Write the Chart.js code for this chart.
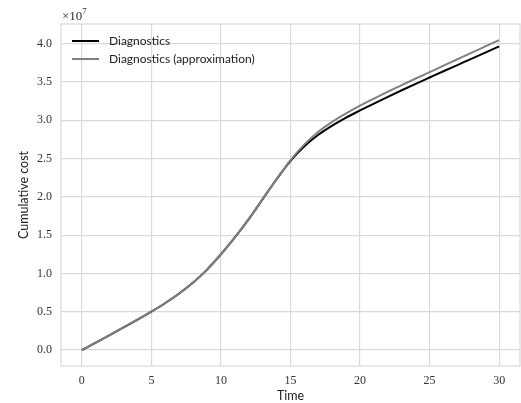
<!DOCTYPE html>
<html>
<head>
<meta charset="utf-8">
<script src="https://cdn.jsdelivr.net/npm/chart.js@4.4.1/dist/chart.umd.min.js"></script>
<style>
	html, body { margin: 0; padding: 0; background: #fff; }
	#wrap { width: 521px; height: 403px; }
</style>
</head>
<body>
<div id="wrap"><canvas id="myChart" width="521" height="403"></canvas></div>
<script>
// values in units of 1e7
const times = [0, 1, 2, 3, 4, 5, 6, 7, 8, 9, 10, 11, 12, 13, 14, 15, 16, 17, 18, 19, 20, 21, 22, 23, 24, 25, 26, 27, 28, 29, 30];
const diagnostics = [0, 0.096, 0.194, 0.294, 0.396, 0.502, 0.614, 0.738, 0.88, 1.05, 1.25, 1.47, 1.71, 1.97, 2.23, 2.47, 2.66, 2.81, 2.93, 3.035, 3.128, 3.218, 3.306, 3.392, 3.476, 3.558, 3.64, 3.721, 3.802, 3.883, 3.964];
const approximation = [0, 0.096, 0.194, 0.294, 0.396, 0.502, 0.614, 0.738, 0.88, 1.05, 1.25, 1.47, 1.71, 1.97, 2.23, 2.48, 2.685, 2.85, 2.98, 3.09, 3.19, 3.283, 3.373, 3.46, 3.545, 3.628, 3.713, 3.797, 3.881, 3.964, 4.047];
const xTicks = [0, 5, 10, 15, 20, 25, 30];
const yTicks = [0, 0.5, 1, 1.5, 2, 2.5, 3, 3.5, 4];

const gridColor = "#d9d9d9";
const serif = "'Liberation Serif', 'DejaVu Serif', serif";
const sans = "Lato, 'DejaVu Sans', sans-serif";

function toPoints(ys) {
	return times.map((t, i) => ({ x: t, y: ys[i] }));
}

// frame, offset label and legend inside the plot
const extras = {
	id: "extras",
	beforeDatasetsDraw(chart) {
		const { ctx, chartArea } = chart;
		ctx.save();
		ctx.strokeStyle = gridColor;
		ctx.lineWidth = 1.2;
		ctx.strokeRect(chartArea.left, chartArea.top, chartArea.right - chartArea.left, chartArea.bottom - chartArea.top);
		ctx.restore();
	},
	afterDraw(chart) {
		const { ctx, chartArea } = chart;
		ctx.save();
		ctx.fillStyle = "#333";
		ctx.textBaseline = "alphabetic";
		ctx.font = "13px " + serif;
		ctx.fillText("\u00d710", chartArea.left + 1, 20);
		let w = ctx.measureText("\u00d710").width;
		ctx.font = "9px " + serif;
		ctx.fillText("7", chartArea.left + 1 + w, 14);

		ctx.font = "12px " + sans;
		ctx.textBaseline = "middle";
		chart.data.datasets.forEach((ds, i) => {
			let y = chartArea.top + 17 + i * 18;
			ctx.strokeStyle = ds.borderColor;
			ctx.lineWidth = 2;
			ctx.beginPath();
			ctx.moveTo(chartArea.left + 11, y);
			ctx.lineTo(chartArea.left + 38, y);
			ctx.stroke();
			ctx.fillStyle = "#222";
			ctx.fillText(ds.label, chartArea.left + 48, y);
		});
		ctx.restore();
	},
};

var ctx = document.getElementById("myChart");
var myChart = new Chart(ctx, {
	type: "line",
	data: {
		datasets: [
			{
				label: "Diagnostics",
				data: toPoints(diagnostics),
				borderColor: "#000000",
				borderWidth: 2,
				pointRadius: 0,
				cubicInterpolationMode: "monotone",
				fill: false,
				order: 2,
			},
			{
				label: "Diagnostics (approximation)",
				data: toPoints(approximation),
				borderColor: "#808080",
				borderWidth: 2,
				pointRadius: 0,
				cubicInterpolationMode: "monotone",
				fill: false,
				order: 1,
			},
		],
	},
	plugins: [extras],
	options: {
		responsive: false,
		animation: false,
		layout: {
			padding: { left: 0, top: 24, right: 1, bottom: 0 },
		},
		plugins: {
			legend: { display: false },
			tooltip: { enabled: false },
		},
		scales: {
			x: {
				type: "linear",
				min: -1.5,
				max: 31.5,
				afterBuildTicks: (scale) => {
					scale.ticks = xTicks.map((v) => ({ value: v }));
				},
				afterFit: (scale) => {
					scale.height = 37;
				},
				grid: { color: gridColor, lineWidth: 1.2, drawTicks: false },
				border: { display: false },
				ticks: {
					padding: 8,
					color: "#333",
					font: { family: serif, size: 12 },
					callback: (v) => String(v),
				},
				title: {
					display: true,
					text: "Time",
					color: "#222",
					padding: 0,
					font: { family: sans, size: 12.5 },
				},
			},
			y: {
				type: "linear",
				min: -0.209,
				max: 4.257,
				afterBuildTicks: (scale) => {
					scale.ticks = yTicks.map((v) => ({ value: v }));
				},
				afterFit: (scale) => {
					scale.width = 61;
				},
				grid: { color: gridColor, lineWidth: 1.2, drawTicks: false },
				border: { display: false },
				ticks: {
					padding: 9,
					color: "#333",
					font: { family: serif, size: 12 },
					callback: (v) => v.toFixed(1),
				},
				title: {
					display: true,
					text: "Cumulative cost",
					color: "#222",
					padding: { top: 16, bottom: 0 },
					font: { family: sans, size: 12.5 },
				},
			},
		},
	},
});
</script>
</body>
</html>
